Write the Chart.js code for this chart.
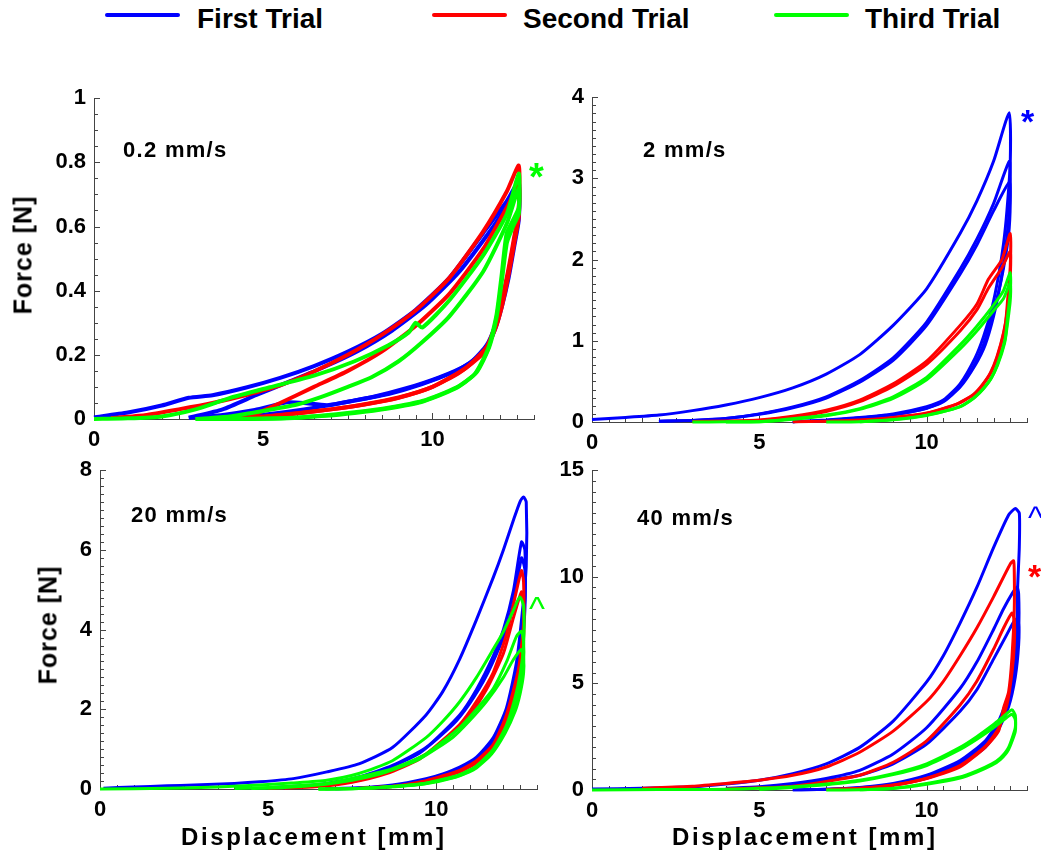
<!DOCTYPE html>
<html>
<head>
<meta charset="utf-8">
<script src="https://cdn.jsdelivr.net/npm/chart.js@4"></script>
<style>
  html, body { margin: 0; padding: 0; background: #fff; overflow: hidden; }
  body { width: 1041px; height: 858px; position: relative; font-family: "Liberation Sans", Arial, sans-serif; }
  canvas { position: absolute; }
  .t { position: absolute; white-space: nowrap; line-height: 1; font-weight: bold; color: #000; }
  .key { position: absolute; height: 4px; border-radius: 2px; top: 13px; }
  .ylab { transform: translate(-50%, -50%) rotate(-90deg); font-size: 25px; letter-spacing: 1px; }
  .xlab { font-size: 24px; letter-spacing: 2.6px; }
  .speed { font-size: 22px; letter-spacing: 1.3px; }
</style>
</head>
<body>

<!-- legend -->
<div class="key" style="left:105px;width:75px;background:#0000ff"></div>
<div class="t" style="left:197px;top:5px;font-size:28px">First Trial</div>
<div class="key" style="left:432px;width:75px;background:#ff0000"></div>
<div class="t" style="left:523px;top:5px;font-size:28px">Second Trial</div>
<div class="key" style="left:774px;width:75px;background:#00ff00"></div>
<div class="t" style="left:865px;top:5px;font-size:28px">Third Trial</div>

<canvas id="c1" width="535" height="382" style="left:14px;top:77px"></canvas>
<canvas id="c2" width="530" height="386" style="left:512px;top:76px"></canvas>
<canvas id="c3" width="532" height="380" style="left:20px;top:449px"></canvas>
<canvas id="c4" width="530" height="381" style="left:512px;top:449px"></canvas>

<!-- axis titles -->
<div class="t ylab" style="left:23px;top:255px">Force [N]</div>
<div class="t ylab" style="left:48px;top:625px">Force [N]</div>
<div class="t xlab" style="left:181px;top:825px">Displacement [mm]</div>
<div class="t xlab" style="left:672px;top:825px">Displacement [mm]</div>

<!-- speed labels -->
<div class="t speed" style="left:123px;top:139px">0.2 mm/s</div>
<div class="t speed" style="left:643px;top:139px">2 mm/s</div>
<div class="t speed" style="left:131px;top:504px">20 mm/s</div>
<div class="t speed" style="left:637px;top:507px">40 mm/s</div>

<!-- significance marks -->
<div class="t" style="left:529px;top:158px;font-size:38px;color:#00ff00">*</div>
<div class="t" style="left:1021px;top:104px;font-size:34px;color:#0000ff">*</div>
<div class="t" style="left:529px;top:591px;font-size:34px;font-weight:normal;color:#00ff00">^</div>
<div class="t" style="left:1028px;top:501px;font-size:32px;font-weight:normal;color:#0000ff">^</div>
<div class="t" style="left:1028px;top:559px;font-size:34px;color:#ff0000">*</div>

<script>
const trialNames = ["First Trial", "Second Trial", "Third Trial"];
const trialColors = ["#0000ff", "#ff0000", "#00ff00"];
const xTicks = [0, 5, 10];

// ---- 0.2 mm/s : each entry is one load/unload cycle, [displacement mm, force N]
const v02Ticks = [0, 0.2, 0.4, 0.6, 0.8, 1];
const v02First = [
  [[0,0.005],[1,0.02],[2,0.042],[2.8,0.066],[3.5,0.074],[4.5,0.098],[5.5,0.128],[6.5,0.165],[7.5,0.21],[8.5,0.265],[9.5,0.34],[10.5,0.44],[11.5,0.58],[12.2,0.68],[12.55,0.74],
   [12.55,0.64],[12.42,0.56],[12.25,0.46],[12.05,0.37],[11.85,0.29],[11.6,0.23],[11.15,0.178],[10.66,0.148],[9.67,0.108],[8.7,0.078],[7.7,0.058],[6.9,0.043],[6.2,0.05],[5.7,0.052],[5.3,0.042],[4.75,0.028],[3.75,0.012],[2.8,0.004]],
  [[2.8,0.004],[3.8,0.03],[4.8,0.075],[5.8,0.118],[6.8,0.162],[7.8,0.212],[8.8,0.275],[9.8,0.355],[10.8,0.46],[11.8,0.6],[12.3,0.68],[12.55,0.71],
   [12.55,0.62],[12.42,0.54],[12.25,0.44],[12.05,0.35],[11.85,0.28],[11.55,0.215],[11,0.168],[10.2,0.13],[9.2,0.095],[8.2,0.068],[7.2,0.048],[6.2,0.03],[5.2,0.016],[4.2,0.006],[3.2,0.001]]
];
const v02Second = [
  [[0.5,0.003],[1.5,0.012],[2.5,0.03],[3.5,0.05],[4.5,0.075],[5.5,0.105],[6.5,0.148],[7.5,0.2],[8.5,0.262],[9.5,0.338],[10.5,0.44],[11.5,0.585],[12.2,0.71],[12.55,0.79],
   [12.55,0.66],[12.42,0.57],[12.25,0.47],[12.05,0.37],[11.85,0.29],[11.6,0.225],[11,0.16],[10,0.1],[9,0.067],[8,0.046],[7,0.03],[6,0.017],[5,0.006],[4.5,0.002]],
  [[4.5,0.002],[5.5,0.05],[6.5,0.1],[7.5,0.15],[8.5,0.21],[9.5,0.29],[10.5,0.39],[11.5,0.53],[12.2,0.66],[12.55,0.73],
   [12.55,0.63],[12.42,0.55],[12.25,0.45],[12.05,0.35],[11.85,0.28],[11.5,0.205],[10.8,0.145],[10,0.1],[9,0.066],[8,0.045],[7,0.03],[6,0.018],[5,0.008],[4,0.002]]
];
const v02Third = [
  [[0,0],[1,0.002],[2,0.008],[3,0.03],[4,0.065],[5.2,0.099],[6.5,0.135],[7.7,0.18],[8.7,0.23],[9.3,0.27],[9.5,0.3],[9.7,0.285],[10.5,0.37],[11.5,0.51],[12.2,0.64],[12.55,0.765],
   [12.55,0.66],[12.38,0.62],[12.19,0.578],[12.04,0.445],[11.89,0.323],[11.65,0.221],[11.25,0.14],[10.66,0.094],[9.67,0.053],[8.69,0.033],[7.7,0.019],[6.72,0.009],[5.73,0.002],[4.5,0],[3,0]],
  [[3,0],[4,0.008],[5,0.025],[6,0.045],[6.7,0.068],[7.5,0.1],[8.2,0.13],[9,0.18],[9.7,0.24],[10.5,0.32],[11.5,0.46],[12.2,0.61],[12.55,0.72],
   [12.55,0.64],[12.38,0.6],[12.2,0.55],[12.05,0.43],[11.9,0.32],[11.68,0.225],[11.3,0.145],[10.7,0.098],[9.7,0.056],[8.7,0.035],[7.7,0.021],[6.7,0.01],[5.7,0.003],[4,0]]
];

// ---- 2 mm/s
const v2Ticks = [0, 1, 2, 3, 4];
const v2First = [
  [[0,0.03],[1,0.055],[2,0.085],[3,0.14],[4,0.21],[5,0.3],[6,0.42],[7,0.59],[8,0.83],[9,1.19],[10,1.64],[11,2.32],[11.5,2.72],[12,3.21],[12.47,3.81],
   [12.5,3.2],[12.4,2.6],[12.3,2.2],[12.15,1.8],[11.95,1.4],[11.7,1.05],[11.45,0.79],[11,0.47],[10.5,0.27],[10,0.19],[9,0.1],[8,0.056],[7,0.024],[6,0.004]],
  [[2,0.01],[3,0.02],[4,0.044],[5,0.1],[6,0.185],[7,0.31],[8,0.51],[9,0.79],[10,1.23],[11,1.88],[11.5,2.25],[12,2.69],[12.47,3.21],
   [12.5,2.9],[12.45,2.5],[12.35,2.1],[12.2,1.7],[12,1.3],[11.75,0.95],[11.45,0.7],[11,0.43],[10.5,0.25],[10,0.17],[9,0.09],[8,0.05],[7,0.02],[6,0.004]],
  [[2,0.01],[3,0.02],[4,0.042],[5,0.095],[6,0.175],[7,0.295],[8,0.49],[9,0.76],[10,1.19],[11,1.82],[11.5,2.18],[12,2.6],[12.47,2.95],
   [12.5,2.7],[12.45,2.3],[12.3,1.9],[12.15,1.6],[11.95,1.3],[11.7,0.95],[11.4,0.68],[11,0.44],[10.5,0.26],[10,0.17],[9,0.09],[8,0.05],[7,0.02],[6,0.004]]
];
const v2Second = [
  [[3,0.005],[4,0.012],[5,0.024],[6,0.07],[7,0.145],[8,0.27],[9,0.47],[10,0.75],[11,1.19],[11.5,1.45],[11.85,1.76],[12.25,2.0],[12.5,2.32],
   [12.5,1.92],[12.42,1.5],[12.35,1.19],[12.15,0.85],[11.95,0.63],[11.7,0.47],[11.45,0.35],[10.96,0.23],[10,0.11],[9,0.056],[8,0.024],[7,0.008],[6,0.002]],
  [[4,0.005],[5,0.02],[6,0.062],[7,0.13],[8,0.25],[9,0.44],[10,0.71],[11,1.12],[11.5,1.38],[11.85,1.65],[12.25,1.9],[12.5,2.1],
   [12.5,1.8],[12.42,1.4],[12.3,1.1],[12.1,0.8],[11.9,0.6],[11.65,0.45],[11.4,0.34],[10.9,0.22],[10,0.105],[9,0.05],[8,0.02],[7,0.006]]
];
const v2Third = [
  [[3,0],[4,0.002],[5,0.004],[6,0.04],[7,0.085],[8,0.165],[9,0.31],[10,0.55],[11,0.95],[11.5,1.18],[12,1.44],[12.3,1.62],[12.5,1.84],
   [12.5,1.6],[12.42,1.3],[12.35,1.03],[12.15,0.75],[11.95,0.55],[11.7,0.41],[11.45,0.31],[11,0.19],[10,0.085],[9,0.03],[8,0.004],[7,0]],
  [[4,0],[5,0.004],[6,0.035],[7,0.078],[8,0.155],[9,0.29],[10,0.52],[11,0.9],[11.5,1.12],[12,1.37],[12.3,1.52],[12.5,1.72],
   [12.5,1.5],[12.42,1.22],[12.33,0.97],[12.12,0.7],[11.9,0.52],[11.65,0.39],[11.4,0.29],[10.95,0.18],[10,0.08],[9,0.028],[8,0.003]]
];

// ---- 20 mm/s
const v20Ticks = [0, 2, 4, 6, 8];
const v20First = [
  [[0.1,0.02],[1,0.05],[2,0.08],[2.8,0.1],[4,0.14],[4.75,0.18],[5.75,0.26],[6.75,0.43],[7.7,0.63],[8.7,1.04],[9.7,1.86],[10.2,2.45],[10.7,3.26],[11.2,4.25],[11.7,5.31],[12,6.0],[12.3,6.75],[12.5,7.22],[12.6,7.33],[12.68,7.2],
   [12.68,5.6],[12.56,4.41],[12.39,3.18],[12.09,2.03],[11.7,1.29],[11.2,0.8],[10.7,0.55],[10.2,0.38],[9.7,0.26],[8.7,0.1],[7.7,0.03],[6.7,0.01]],
  [[5,0.03],[6,0.08],[6.75,0.14],[7.7,0.3],[8.7,0.59],[9.7,1.04],[10.7,1.86],[11.2,2.5],[11.7,3.34],[12,4.0],[12.3,4.98],[12.54,6.2],[12.64,6.0],
   [12.64,4.8],[12.54,3.8],[12.4,2.9],[12.1,1.9],[11.7,1.2],[11.2,0.75],[10.7,0.5],[10.2,0.33],[9.7,0.22],[8.7,0.08],[7.7,0.02],[6.7,0.005]],
  [[5.5,0.03],[6.5,0.1],[7.5,0.24],[8.5,0.5],[9.5,0.9],[10.5,1.62],[11,2.15],[11.5,2.85],[12,3.8],[12.3,4.7],[12.54,5.8],[12.64,5.5],
   [12.64,4.5],[12.54,3.5],[12.4,2.7],[12.1,1.8],[11.7,1.15],[11.2,0.7],[10.7,0.45],[10,0.26],[9,0.1],[8,0.03],[7,0.005]]
];
const v20Second = [
  [[5,0.02],[6,0.05],[6.75,0.1],[7.7,0.22],[8.7,0.47],[9.7,0.88],[10.7,1.62],[11.2,2.2],[11.7,2.93],[12.1,3.9],[12.39,4.98],[12.54,5.48],[12.6,5.2],
   [12.6,4.16],[12.45,3.01],[12.09,1.86],[11.7,1.12],[11.2,0.71],[10.7,0.47],[9.7,0.21],[8.7,0.07],[7.7,0.02]],
  [[5.5,0.02],[6.5,0.06],[7.5,0.17],[8.5,0.38],[9.5,0.75],[10.5,1.4],[11,1.85],[11.5,2.5],[12,3.4],[12.3,4.3],[12.54,4.95],[12.6,4.6],
   [12.6,3.8],[12.45,2.8],[12.1,1.75],[11.7,1.05],[11.2,0.66],[10.7,0.43],[9.7,0.19],[8.7,0.06],[7.7,0.015]]
];
const v20Third = [
  [[0,0],[2,0.02],[3.5,0.05],[4.75,0.1],[5.7,0.15],[6.75,0.22],[7.7,0.39],[8.7,0.71],[9.7,1.29],[10.2,1.7],[10.7,2.19],[11.2,2.8],[11.7,3.51],[12,3.95],[12.3,4.49],[12.49,4.82],[12.6,4.6],
   [12.6,3.6],[12.5,2.9],[12.35,2.3],[12.09,1.6],[11.7,1.0],[11.2,0.58],[10.7,0.36],[9.7,0.15],[8.7,0.06],[7.7,0.01],[6.5,0]],
  [[4,0.01],[5,0.04],[6,0.09],[6.75,0.14],[7.7,0.3],[8.7,0.51],[9.7,0.88],[10.7,1.54],[11.2,2.0],[11.7,2.52],[12.1,3.2],[12.39,3.83],[12.54,3.96],[12.6,3.7],
   [12.6,3.18],[12.5,2.6],[12.39,2.2],[12.09,1.54],[11.7,0.96],[11.2,0.55],[10.7,0.34],[9.7,0.14],[8.7,0.06],[7.7,0.01],[6.5,0]],
  [[4.5,0.01],[5.5,0.04],[6.5,0.1],[7.5,0.22],[8.5,0.42],[9.5,0.75],[10.5,1.3],[11,1.72],[11.5,2.2],[12,2.8],[12.3,3.25],[12.54,3.5],[12.6,3.3],
   [12.6,2.9],[12.5,2.4],[12.35,1.95],[12.05,1.4],[11.65,0.88],[11.15,0.5],[10.6,0.3],[9.6,0.12],[8.6,0.05],[7.6,0.01],[6.5,0]]
];

// ---- 40 mm/s
const v40Ticks = [0, 5, 10, 15];
const v40First = [
  [[0,0.05],[1.5,0.08],[3,0.15],[4,0.28],[5,0.46],[6,0.77],[7,1.23],[8,2.0],[9,3.23],[10,5.07],[10.5,6.3],[11,7.83],[11.5,9.5],[12,11.37],[12.45,12.9],[12.65,13.2],[12.77,12.98],
   [12.77,11.4],[12.72,9.5],[12.7,7.53],[12.6,5.6],[12.45,4.45],[12.15,3.23],[11.75,2.3],[11,1.38],[10,0.69],[9,0.31],[8,0.12],[7,0.03],[6,0.01]],
  [[4,0.08],[5,0.15],[6,0.3],[7,0.54],[8,0.92],[9,1.69],[10,2.92],[11,4.76],[11.5,6.0],[12,7.53],[12.3,8.5],[12.55,9.2],[12.7,9.52],[12.75,9.2],
   [12.75,7.5],[12.65,5.8],[12.45,4.2],[12.15,3.0],[11.75,2.15],[11,1.28],[10,0.62],[9,0.27],[8,0.1],[7,0.03],[6,0.01]],
  [[5,0.08],[6,0.23],[7,0.45],[8,0.69],[9,1.23],[10,2.15],[11,3.69],[11.5,4.7],[12,6.14],[12.4,7.3],[12.65,7.99],[12.75,7.8],
   [12.75,6.8],[12.65,5.3],[12.45,3.9],[12.15,2.85],[11.75,2.0],[11,1.18],[10,0.56],[9,0.24],[8,0.08],[7,0.02]]
];
const v40Second = [
  [[1.5,0.08],[3,0.18],[4,0.31],[5,0.46],[6,0.69],[7,1.08],[8,1.77],[9,2.76],[10,4.15],[10.5,5.1],[11,6.3],[11.5,7.6],[12,9.06],[12.5,10.6],[12.6,10.75],
   [12.62,10.2],[12.62,8.5],[12.55,6.2],[12.45,4.6],[12.3,3.84],[12.15,2.76],[11.75,2.0],[11,1.08],[10,0.54],[9,0.23],[8,0.08],[7,0.02]],
  [[4,0.05],[5,0.1],[6,0.18],[7,0.4],[8,0.69],[9,1.3],[10,2.3],[11,3.99],[11.5,5.1],[12,6.6],[12.3,7.6],[12.55,8.3],[12.62,8.0],
   [12.62,6.8],[12.55,5.5],[12.4,4.0],[12.15,2.9],[11.75,2.05],[11,1.15],[10,0.55],[9,0.22],[8,0.07],[7,0.02]]
];
const v40Third = [
  [[0,0],[2,0.02],[4,0.03],[6,0.15],[7,0.28],[8,0.46],[9,0.77],[10,1.23],[11,2.0],[11.5,2.5],[12,3.07],[12.3,3.45],[12.55,3.76],[12.65,3.5],
   [12.65,2.92],[12.45,2.0],[12.2,1.5],[11.95,1.23],[11.5,0.9],[11,0.61],[10,0.31],[9,0.08],[8,0.01],[7,0]],
  [[5,0.02],[6,0.12],[7,0.25],[8,0.42],[9,0.72],[10,1.15],[11,1.9],[11.5,2.38],[12,2.92],[12.3,3.28],[12.55,3.55],[12.65,3.3],
   [12.65,2.75],[12.45,1.9],[12.2,1.42],[11.95,1.16],[11.5,0.84],[11,0.56],[10,0.27],[9,0.07],[8,0.01]]
];

const axisColor = "#444";
const tickFont = { family: "'Liberation Sans', Arial, sans-serif", size: 22, weight: "bold" };

// inward major/minor tick marks along both axes
const innerTicks = {
  id: "innerTicks",
  beforeDatasetsDraw(chart, args, opts) {
    const { ctx, chartArea: a, scales: { x, y } } = chart;
    ctx.save();
    ctx.strokeStyle = axisColor;
    ctx.lineWidth = 1;
    ctx.beginPath();
    for (let k = 0; k <= 26; k++) {
      const px = Math.round(x.getPixelForValue(k * 0.5)) + 0.5;
      const len = k % 10 === 0 ? 6 : 4;
      ctx.moveTo(px, a.bottom);
      ctx.lineTo(px, a.bottom - len);
    }
    const n = Math.round(y.max / opts.minor);
    for (let k = 0; k <= n; k++) {
      const py = Math.round(y.getPixelForValue(k * opts.minor)) + 0.5;
      const len = k % opts.every === 0 ? 6 : 4;
      ctx.moveTo(a.left, py);
      ctx.lineTo(a.left + len, py);
    }
    ctx.stroke();
    ctx.restore();
  }
};

const panels = [
  { id: "c1", yMax: 1, yTicks: v02Ticks, minor: 0.05, every: 4, lw: 4, trials: [v02First, v02Second, v02Third] },
  { id: "c2", yMax: 4, yTicks: v2Ticks, minor: 0.1, every: 10, lw: 3, trials: [v2First, v2Second, v2Third] },
  { id: "c3", yMax: 8, yTicks: v20Ticks, minor: 0.2, every: 10, lw: 3, trials: [v20First, v20Second, v20Third] },
  { id: "c4", yMax: 15, yTicks: v40Ticks, minor: 0.5, every: 10, lw: 3, trials: [v40First, v40Second, v40Third] }
];

panels.forEach(p => {
  const datasets = [];
  p.trials.forEach((loops, i) => {
    loops.forEach(loop => {
      datasets.push({
        label: trialNames[i],
        data: loop.map(([x, y]) => ({ x, y })),
        borderColor: trialColors[i],
        backgroundColor: trialColors[i],
        borderWidth: p.lw,
        showLine: true,
        pointRadius: 0,
        tension: 0.2,
        clip: false,
        order: 3 - i
      });
    });
  });

  new Chart(document.getElementById(p.id), {
    type: "scatter",
    data: { datasets },
    options: {
      responsive: false,
      animation: false,
      devicePixelRatio: 1,
      events: [],
      layout: { autoPadding: false, padding: { left: 0, top: 15, right: 15, bottom: 0 } },
      plugins: {
        legend: { display: false },
        tooltip: { enabled: false },
        innerTicks: { minor: p.minor, every: p.every }
      },
      scales: {
        x: {
          type: "linear", min: 0, max: 13,
          afterBuildTicks: s => { s.ticks = xTicks.map(v => ({ value: v })); },
          afterFit: s => { s.height = 40; },
          grid: { display: false, drawTicks: false },
          border: { display: true, color: axisColor, width: 1 },
          ticks: { padding: 8, font: tickFont, color: "#000", maxRotation: 0, callback: v => String(v) }
        },
        y: {
          type: "linear", min: 0, max: p.yMax,
          afterBuildTicks: s => { s.ticks = p.yTicks.map(v => ({ value: v })); },
          afterFit: s => { s.width = 80; },
          grid: { display: false, drawTicks: false },
          border: { display: true, color: axisColor, width: 1 },
          ticks: { padding: 8, font: tickFont, color: "#000", callback: v => String(v) }
        }
      }
    },
    plugins: [innerTicks]
  });
});
</script>
</body>
</html>
